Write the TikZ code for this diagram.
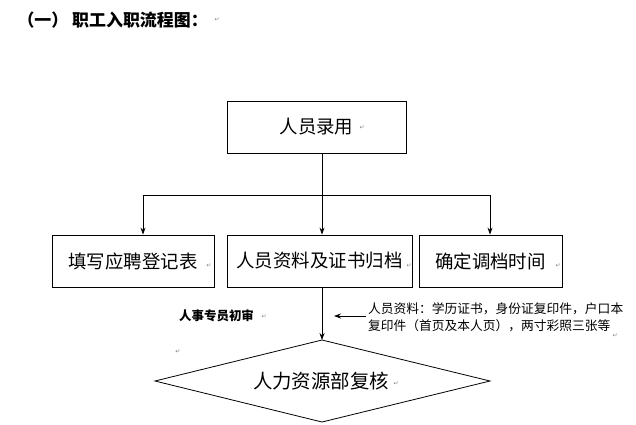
\documentclass[tikz,border=0pt]{standalone}
\usepackage{fontspec}
\newfontfamily\cjk{Noto Sans CJK SC}
\newfontfamily\djsans{DejaVu Sans}
\usetikzlibrary{arrows.meta}
\begin{document}
\begin{tikzpicture}[x=1bp,y=-1bp,
  box/.style={draw,thick,minimum height=52bp,inner sep=0pt,font=\cjk\fontsize{18.5}{18.5}\selectfont},
  arr/.style={-{Stealth[length=7bp,width=5bp]},thick},
  pm/.style={font=\djsans\fontsize{6}{6}\selectfont,text=gray}]
\useasboundingbox (0,0) rectangle (636,424);
\node[anchor=west,font=\cjk\bfseries\fontsize{17}{17}\selectfont] (t) at (14,20) {（一）\ 职工入职流程图：};
\node[pm,anchor=west] at (t.east) {↵};
\node[box,minimum width=179bp] (a) at (316.5,127) {人员录用};
\node[box,minimum width=162bp] (b) at (133,261) {填写应聘登记表};
\node[box,minimum width=185bp] (c) at (319.5,261) {人员资料及证书归档};
\node[box,minimum width=143bp] (d) at (490.5,261) {确定调档时间};
\node[pm] at (362,128) {↵};
\node[pm] at (209,266) {↵};
\node[pm] at (409,266) {↵};
\node[pm] at (558,266) {↵};
\coordinate (j) at (322,195);
\coordinate (jl) at (143,195);
\coordinate (jr) at (490,195);
\draw[thick] (a.south -| j) -- (j);
\draw[thick] (jl) -- (jr);
\draw[arr] (jl) -- (b.north -| jl);
\draw[arr] (j) -- (c.north -| j);
\draw[arr] (jr) -- (d.north -| jr);
\draw[thick] (155,381) coordinate (dl) -- (322,340) coordinate (dt) -- (490,381) coordinate (dr) -- (322,422) coordinate (db) -- cycle;
\node[font=\cjk\fontsize{19.5}{19.5}\selectfont] (e) at (321,381) {人力资源部复核};
\node[pm] at (396,384) {↵};
\draw[arr] (c.south -| dt) -- (dt);
\node[font=\cjk\bfseries\fontsize{12.5}{12.5}\selectfont,anchor=west,inner sep=0pt] (f) at (179,316) {人事专员初审};
\node[pm] at (264,317) {↵};
\node[pm] at (178,352) {↵};
\coordinate (ns) at (366,316);
\coordinate (ne) at (334,316);
\draw[arr] (ns) -- (ne);
\node[font=\cjk\fontsize{12.8}{18}\selectfont,anchor=north west,align=left,inner sep=0pt] (g) at (368,302) {人员资料：学历证书，身份证复印件，户口本\\复印件（首页及本人页），两寸彩照三张等};
\node[pm] at (615,336) {↵};
\end{tikzpicture}
\end{document}
